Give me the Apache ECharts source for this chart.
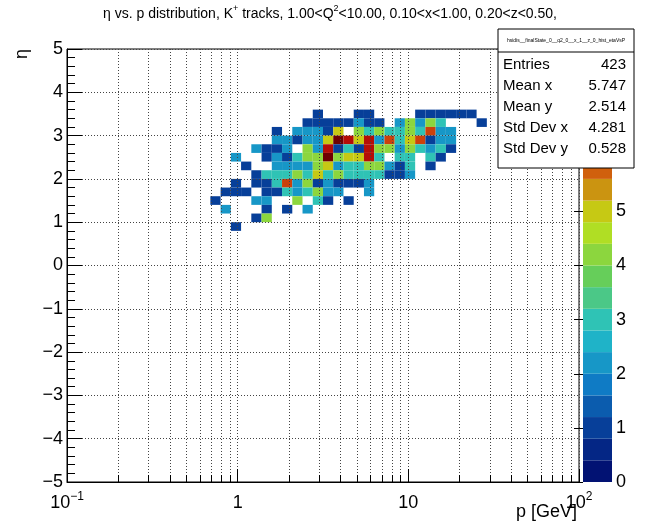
<!DOCTYPE html>
<html><head><meta charset="utf-8">
<script src="https://cdn.jsdelivr.net/npm/echarts@6/dist/echarts.min.js"></script>
<style>html,body{margin:0;padding:0;background:#fff}#c{width:647px;height:526px}</style>
</head><body><div id="c"></div>
<script>
// ---- axis definitions ----
const xTickValues = [0.1, 1, 10, 100];
const xTickLabels = ['{b|10}{s|\u22121}', '{b|1}', '{b|10}', '{b|10}{s|2}'];
const xMinorValues = [0.2,0.3,0.4,0.5,0.6,0.7,0.8,0.9,2,3,4,5,6,7,8,9,20,30,40,50,60,70,80,90];
const yMin = -5, yMax = 5;
const zMax = 8, zLevels = 20;
// histogram binning: 50 log bins in p (0.1..100), 50 bins in eta (-5..5)
const nBinsX = 50, xLo = 0.1, xHi = 100;
const etaBinWidth = 0.2;

// ---- bin contents, read row by row (eta low edge, first p-bin index, counts) ----
const etaRowLow   = [3.4, 3.2, 3.0, 2.8, 2.6, 2.4, 2.2, 2.0, 1.8, 1.6, 1.4, 1.2, 1.0, 0.8];
const rowFirstBin = [24,  23,  20,  20,  18,  16,  17,  18,  16,  15,  14,  15,  18,  16];
const rowCounts = [
  [1,0,0,0,1,1,0,0,0,0,1,1,1,1,1,1],
  [1,1,1,1,1,2,1,1,0,2,4,2,4,3,0,0,0,1],
  [1,0,2,2,2,1,5,0,4,3,4,3,3,4,3,6,2,2],
  [2,2,1,2,2,5,8,7,5,7,2,6,3,5,6,1,2,2],
  [2,1,1,2,0,4,2,7,1,3,1,7,4,4,2,4,3,2,3,1],
  [2,0,0,1,2,1,3,4,4,8,4,5,5,7,3,0,3,3,0,3,1],
  [1,0,0,2,2,2,2,4,5,2,3,3,4,4,2,1,3,0,1],
  [1,3,3,3,4,3,5,3,4,3,3,3,3,1,1,2],
  [1,0,1,1,3,6,2,4,1,2,1,1,1,2],
  [1,1,1,0,1,1,3,2,3,4,2,2,0,0,2],
  [1,0,0,0,2,2,0,0,4,0,3,1,0,1],
  [2,0,0,0,1,0,1,0,2],
  [1,4],
  [1]
];

const statsTitle = 'hsidis__finalState_0__q2_0__x_1__z_0_hist_etaVsP';
const statsNames  = ['Entries', 'Mean x', 'Mean y', 'Std Dev x', 'Std Dev y'];
const statsValues = ['423', '5.747', '2.514', '4.281', '0.528'];

// ---- ROOT kRainBow palette ----
const palStops = [0, 0.125, 0.25, 0.375, 0.5, 0.625, 0.75, 0.875, 1];
const palR = [0, 5, 15, 35, 102, 196, 208, 199, 110];
const palG = [0, 48, 124, 192, 206, 226, 97, 16, 0];
const palB = [99, 142, 198, 201, 90, 22, 13, 8, 2];
function palColor(t) {
  let g = 1;
  while (g < palStops.length - 1 && t > palStops[g]) g++;
  const f = (t - palStops[g-1]) / (palStops[g] - palStops[g-1]);
  const c = (a) => Math.round(a[g-1] + (a[g] - a[g-1]) * f);
  return 'rgb(' + c(palR) + ',' + c(palG) + ',' + c(palB) + ')';
}
function levelColor(k) {
  return palColor(Math.floor((k + 0.99) * 255 / zLevels) / 254);
}
function countColor(v) {
  const k = Math.min(zLevels - 1, Math.floor(v * zLevels / zMax + 1e-9));
  return levelColor(k);
}

const binEdgeX = (i) => xLo * Math.pow(xHi / xLo, i / nBinsX);
const cells = [];
rowCounts.forEach((row, r) => {
  row.forEach((v, c) => {
    if (v > 0) {
      const i = rowFirstBin[r] + c;
      cells.push([binEdgeX(i), binEdgeX(i + 1), etaRowLow[r], +(etaRowLow[r] + etaBinWidth).toFixed(2), v]);
    }
  });
});
const levels = [];
for (let k = 0; k < zLevels; k++) levels.push([0, 1, k * zMax / zLevels, (k + 1) * zMax / zLevels, k]);

const FONT = 'Liberation Sans, Arial, Helvetica, sans-serif';
const dotted = { color: '#444', width: 1, type: [1, 2] };

const chart = echarts.init(document.getElementById('c'), null, { renderer: 'canvas' });
chart.setOption({
  animation: false,
  backgroundColor: '#fff',
  grid: [
    { left: 67, right: 68, top: 49, bottom: 44, show: true, borderColor: '#000', borderWidth: 1, backgroundColor: 'transparent', outerBoundsMode: 'none' },
    { left: 583, right: 35, top: 49, bottom: 44, outerBoundsMode: 'none' }
  ],
  xAxis: [
    {
      type: 'log', logBase: 10, min: xLo, max: xHi, gridIndex: 0, position: 'bottom', z: 5,
      axisLine: { show: true, onZero: false, lineStyle: { color: '#000', width: 1 } },
      axisTick: { show: true, inside: true, length: 13, customValues: xTickValues, lineStyle: { color: '#000' } },
      axisLabel: {
        show: true, customValues: xTickValues, margin: 9, color: '#000',
        formatter: (v) => { const i = xTickValues.findIndex(t => Math.abs(Math.log10(t) - Math.log10(v)) < 1e-6); return i >= 0 ? xTickLabels[i] : ''; },
        rich: { b: { fontSize: 18, fontFamily: FONT, lineHeight: 24, color: '#000' }, s: { fontSize: 12, fontFamily: FONT, lineHeight: 12, verticalAlign: 'top', color: '#000' } }
      },
      splitLine: { show: true, lineStyle: dotted },
      minorTick: { show: false }
    },
    {
      type: 'log', logBase: 10, min: xLo, max: xHi, gridIndex: 0, position: 'bottom', z: 5,
      axisLine: { show: false, onZero: false },
      axisTick: { show: true, inside: true, length: 7, customValues: xMinorValues, lineStyle: { color: '#000' } },
      axisLabel: { show: false },
      splitLine: { show: true, lineStyle: dotted }
    },
    { type: 'value', min: 0, max: 1, gridIndex: 1, show: false }
  ],
  yAxis: [
    {
      type: 'value', min: yMin, max: yMax, interval: 1, gridIndex: 0, z: 5,
      axisLine: { show: true, onZero: false, lineStyle: { color: '#000', width: 1 } },
      axisTick: { show: true, inside: true, length: 15, lineStyle: { color: '#000' } },
      minorTick: { show: true, splitNumber: 5, length: 8, lineStyle: { color: '#000' } },
      axisLabel: { fontSize: 18, fontFamily: FONT, color: '#000', margin: 4, formatter: (v) => String(v).replace('-', '\u2212') },
      splitLine: { show: true, lineStyle: dotted }
    },
    {
      type: 'value', min: 0, max: zMax, interval: 1, gridIndex: 1, position: 'right', z: 5,
      axisLine: { show: false },
      axisTick: { show: true, inside: true, length: 9, lineStyle: { color: '#000' } },
      axisLabel: { fontSize: 18, fontFamily: FONT, color: '#000', margin: 4 },
      splitLine: { show: false }
    }
  ],
  series: [
    {
      type: 'custom', xAxisIndex: 0, yAxisIndex: 0, z: 2,
      encode: { x: [0, 1], y: [2, 3] },
      data: cells,
      renderItem: (params, api) => {
        const p0 = api.coord([api.value(0), api.value(2)]);
        const p1 = api.coord([api.value(1), api.value(3)]);
        return { type: 'rect', shape: { x: p0[0], y: p1[1], width: p1[0] - p0[0], height: p0[1] - p1[1] }, style: { fill: countColor(api.value(4)) } };
      }
    },
    {
      type: 'custom', xAxisIndex: 2, yAxisIndex: 1, z: 2,
      encode: { x: [0, 1], y: [2, 3] },
      data: levels,
      renderItem: (params, api) => {
        const p0 = api.coord([api.value(0), api.value(2)]);
        const p1 = api.coord([api.value(1), api.value(3)]);
        return { type: 'rect', shape: { x: p0[0], y: p1[1], width: p1[0] - p0[0], height: p0[1] - p1[1] }, style: { fill: levelColor(api.value(4)) } };
      }
    }
  ],
  graphic: [
    {
      type: 'text', x: 330, y: 14, z: 100,
      style: {
        text: '{t|\u03b7 vs. p distribution, K}{s|+}{t| tracks, 1.00<Q}{s|2}{t|<10.00, 0.10<x<1.00, 0.20<z<0.50,}',
        align: 'center', verticalAlign: 'middle',
        rich: { t: { fontSize: 14, fontFamily: FONT, lineHeight: 19, fill: '#000' }, s: { fontSize: 9, fontFamily: FONT, lineHeight: 9, verticalAlign: 'top', fill: '#000' } }
      }
    },
    { type: 'text', x: 22, y: 49, rotation: Math.PI / 2, z: 100, style: { text: '\u03b7', font: '18px ' + FONT, fill: '#000', align: 'right', verticalAlign: 'middle' } },
    { type: 'text', x: 577, y: 512, z: 100, style: { text: 'p [GeV]', font: '18px ' + FONT, fill: '#000', align: 'right', verticalAlign: 'middle' } },
    {
      type: 'group', x: 498, y: 29, z: 100,
      children: [
        { type: 'rect', shape: { x: 0, y: 0, width: 136, height: 139 }, style: { fill: '#fff', stroke: '#000', lineWidth: 1 }, z: 100 },
        { type: 'line', shape: { x1: 0, y1: 23, x2: 136, y2: 23 }, style: { stroke: '#000', lineWidth: 1 }, z: 101 },
        { type: 'text', x: 68, y: 11.5, z: 101, style: { text: statsTitle, font: '5px ' + FONT, fill: '#000', align: 'center', verticalAlign: 'middle' } }
      ].concat(statsNames.map((n, i) => ({ type: 'text', x: 5, y: 36 + i * 21, z: 101, style: { text: n, font: '15px ' + FONT, fill: '#000', align: 'left', verticalAlign: 'middle' } })))
       .concat(statsValues.map((v, i) => ({ type: 'text', x: 128, y: 36 + i * 21, z: 101, style: { text: v, font: '15px ' + FONT, fill: '#000', align: 'right', verticalAlign: 'middle' } })))
    }
  ]
});
</script></body></html>
